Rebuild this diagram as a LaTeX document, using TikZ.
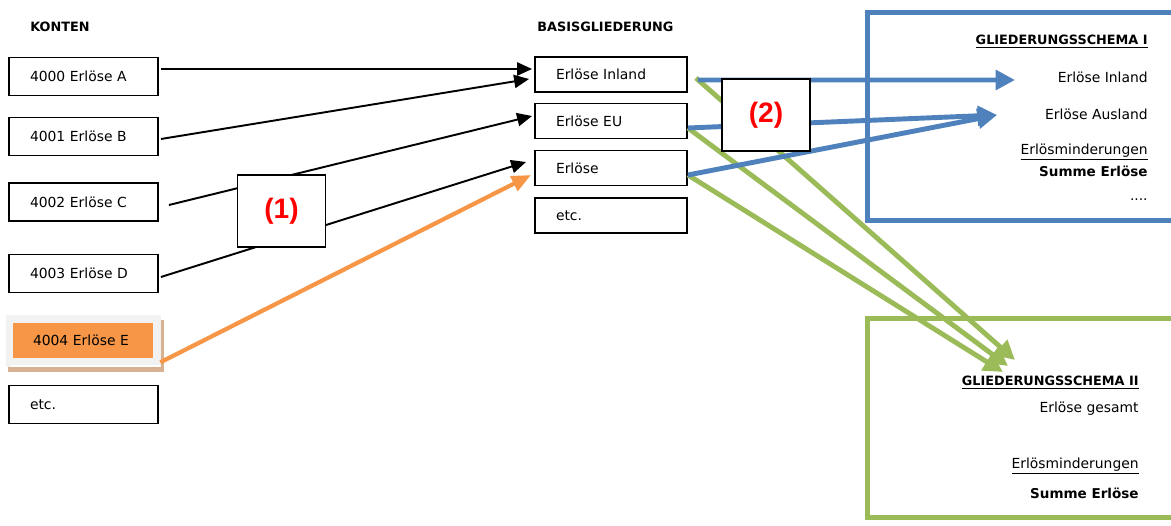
\documentclass[tikz,border=0pt]{standalone}
\usepackage{fontspec}
\setmainfont{DejaVu Sans}
\newfontfamily\numfont{Liberation Sans}
\usetikzlibrary{arrows.meta,calc}
\definecolor{blu}{HTML}{4F81BD}
\definecolor{grn}{HTML}{9BBB59}
\definecolor{org}{HTML}{F79646}
\definecolor{tanc}{HTML}{D7B190}
\definecolor{lgr}{HTML}{F2F2F2}
\definecolor{redc}{HTML}{FF0000}
\begin{document}
\begin{tikzpicture}[x=0.02cm,y=-0.02cm,
  font=\fontsize{7.9}{9}\selectfont,
  kbox/.style={draw, line width=1.1pt, fill=white, minimum width=29.8mm, minimum height=7.6mm,
    text width=21.4mm, inner xsep=4.2mm, inner ysep=0pt, align=left},
  bbox/.style={draw, line width=1.1pt, fill=white, minimum width=30.4mm, minimum height=7mm,
    text width=22mm, inner xsep=4.2mm, inner ysep=0pt, align=left},
  numbox/.style={draw, line width=1.1pt, fill=white, minimum width=17.6mm, minimum height=14.4mm,
    text=redc, font=\numfont\bfseries\fontsize{16}{18}\selectfont},
  title/.style={anchor=west, inner sep=0pt, font=\fontsize{7.3}{9}\selectfont\bfseries},
  rtext/.style={anchor=east, inner sep=0pt},
  blk/.style={draw=black, line width=1.1pt, -{Triangle[length=8.5pt,width=7.5pt]}},
  orng/.style={draw=org, line width=2.4pt, -{Triangle[length=11pt,width=9pt]}},
  bluea/.style={draw=blu, line width=2.8pt, -{Triangle[length=11pt,width=11pt]}},
  grna/.style={draw=grn, line width=2.8pt, -{Triangle[length=11pt,width=11pt]}},
]
\useasboundingbox (0,0) rectangle (1171,526);

% titles
\node[title] (tk) at (30,27) {KONTEN};
\node[title] (tb) at (537,27) {BASISGLIEDERUNG};

% frames
\node[draw=blu, line width=2.8pt, minimum width=65mm, minimum height=41.6mm, anchor=north west] (s1) at (865,10) {};
\node[draw=grn, line width=2.8pt, minimum width=65mm, minimum height=39.8mm, anchor=north west] (s2) at (865,316) {};

% left boxes
\node[kbox] (k0) at (83.5,76.5) {4000 Erlöse A};
\node[kbox] (k1) at (83.5,136.5) {4001 Erlöse B};
\node[kbox] (k2) at (83.5,202) {4002 Erlöse C};
\node[kbox] (k3) at (83.5,273.5) {4003 Erlöse D};
\fill[tanc] (8,320) rectangle (164,372);
\node[fill=lgr, minimum width=31mm, minimum height=10.4mm, inner sep=0pt] (k4bg) at (83.5,341) {};
\draw[white, line width=0.6pt] (11,366) -- (160,366);
\node[fill=org, minimum width=28mm, minimum height=7mm, text width=20mm, inner xsep=4mm, inner ysep=0pt, align=left] (k4) at (83,340.5) {4004 Erlöse E};
\node[kbox] (k5) at (83.5,404.5) {etc.};

% middle boxes
\node[bbox] (b0) at (611,74.5) {Erlöse Inland};
\node[bbox] (b1) at (611,121) {Erlöse EU};
\node[bbox] (b2) at (611,168) {Erlöse};
\node[bbox] (b3) at (611,215.5) {etc.};

% tip coordinates
\coordinate (t1) at (1015,80);
\coordinate (t2) at (997,115);
\coordinate (t3) at (1015,360);
\coordinate (t4) at (1008,366);
\coordinate (t5) at (1003,372);

% black arrows
\draw[blk] ($(k0.east)+(2,-7.5)$) -- ($(b0.west)+(-2,-5.5)$);
\draw[blk] ($(k1.east)+(2,2.5)$) -- ($(b0.west)+(-5,4.5)$);
\draw[blk] ($(k2.east)+(10,3)$) -- ($(b1.west)+(-2,-5)$);
\draw[blk] ($(k3.east)+(2,3.5)$) -- ($(b2.west)+(-8,-6)$);
% orange arrow
\draw[orng] ($(k4bg.south east)+(-1,-5)$) -- ($(b2.west)+(-3,7)$);

% green arrows
\draw[grna] ($(b0.east)+(8,3.5)$) -- (t3);
\draw[grna] ($(b1.east)+(0,7)$) -- (t4);
\draw[grna] ($(b2.east)+(0,7)$) -- (t5);
% blue arrows
\draw[bluea] ($(b0.east)+(10,5.5)$) -- (t1);
\draw[bluea] ($(b1.east)+(0,7)$) -- (t2);
\draw[bluea] ($(b2.east)+(0,7)$) -- (t2);

% numbered boxes
\node[numbox] (n1) at (281.5,211) {(1)};
\node[numbox] (n2) at (766,115) {(2)};

% schema I texts
\node[rtext, font=\fontsize{7.3}{9}\selectfont\bfseries] (h1) at (1148,42) {\underline{GLIEDERUNGSSCHEMA I}};
\node[rtext] (i1) at (1148,77) {Erlöse Inland};
\node[rtext] (i2) at (1148,114) {Erlöse Ausland};
\node[rtext] (i3) at (1148,152) {\underline{Erlösminderungen}};
\node[rtext, font=\fontsize{7.7}{9}\selectfont\bfseries] (i4) at (1148,171) {Summe Erlöse};
\node[rtext] (i5) at (1148,200) {....};

% schema II texts
\node[rtext, font=\fontsize{7.3}{9}\selectfont\bfseries] (h2) at (1139,383) {\underline{GLIEDERUNGSSCHEMA II}};
\node[rtext] (j1) at (1139,409) {Erlöse gesamt};
\node[rtext] (j2) at (1139,466) {\underline{Erlösminderungen}};
\node[rtext, font=\fontsize{7.7}{9}\selectfont\bfseries] (j3) at (1139,493) {Summe Erlöse};
\end{tikzpicture}
\end{document}
